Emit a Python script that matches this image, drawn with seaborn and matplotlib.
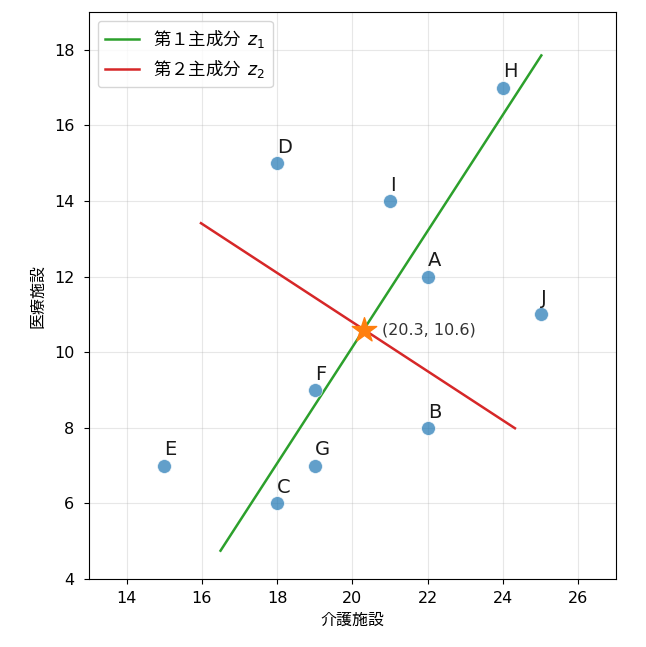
import numpy as np
import pandas as pd
import matplotlib
matplotlib.use("Agg")
import matplotlib.pyplot as plt
import seaborn as sns

# data
labels = ["A", "B", "C", "D", "E", "F", "G", "H", "I", "J"]
kaigo = [22, 22, 18, 18, 15, 19, 19, 24, 21, 25]      # 介護施設
iryo = [12, 8, 6, 15, 7, 9, 7, 17, 14, 11]            # 医療施設
# extents (along each principal axis, from the mean) of the drawn lines
pc1_extent = [-6.98, 8.65]
pc2_extent = [-4.79, 5.16]

plt.rcParams['font.family'] = ['DejaVu Sans', 'Noto Sans CJK JP']
plt.rcParams['mathtext.fontset'] = 'dejavusans'

df = pd.DataFrame({"介護施設": kaigo, "医療施設": iryo, "label": labels})
X = df[["介護施設", "医療施設"]].to_numpy(float)
mean = X.mean(axis=0)
cov = np.cov((X - mean).T)
vals, vecs = np.linalg.eigh(cov)
order = np.argsort(vals)[::-1]
v1 = vecs[:, order[0]]
v2 = vecs[:, order[1]]
if v1[1] < 0:
    v1 = -v1
if v2[0] > 0:
    v2 = -v2  # point up-left

fig = plt.figure(figsize=(6.46, 6.47), dpi=100)
ax = fig.add_axes([89/646, 1-579/647, (616-89)/646, (579-12)/647])

t1 = np.array(pc1_extent)
t2 = np.array(pc2_extent)
ax.plot(mean[0] + t1 * v1[0], mean[1] + t1 * v1[1], color="tab:green", lw=1.8,
        label="第１主成分  $z_1$", zorder=2)
ax.plot(mean[0] + t2 * v2[0], mean[1] + t2 * v2[1], color="tab:red", lw=1.8,
        label="第２主成分  $z_2$", zorder=2)

sns.scatterplot(data=df, x="介護施設", y="医療施設", s=100, color="tab:blue",
                alpha=0.7, edgecolor="white", linewidth=0.6, ax=ax, zorder=3)
for lab, x, y in zip(labels, kaigo, iryo):
    ax.annotate(lab, (x, y), xytext=(0, 4.5), textcoords="offset points",
                fontsize=14, ha="left", va="bottom", color="#1a1a1a")

ax.scatter([mean[0]], [mean[1]], marker="*", s=340, color="tab:orange", zorder=4)
ax.annotate(f"({mean[0]:.1f}, {mean[1]:.1f})", (mean[0], mean[1]),
            xytext=(13, 0), textcoords="offset points", fontsize=11.5,
            va="center", ha="left", color="#333333")

ax.set_xlim(13, 27)
ax.set_ylim(4, 19)
ax.set_xticks(np.arange(14, 27, 2))
ax.set_yticks(np.arange(4, 19, 2))
ax.tick_params(axis="x", labelsize=11.5, pad=5)
ax.tick_params(axis="y", labelsize=11.5, pad=7)
ax.set_xlabel("介護施設", fontsize=11.5, labelpad=5)
ax.set_ylabel("医療施設", fontsize=11.5, labelpad=6)
ax.grid(True, alpha=0.3)
ax.set_axisbelow(True)
ax.legend(loc="upper left", prop={"family": ["Noto Sans CJK JP", "DejaVu Sans"], "size": 12.5})

fig.savefig("out.png", dpi=100)
